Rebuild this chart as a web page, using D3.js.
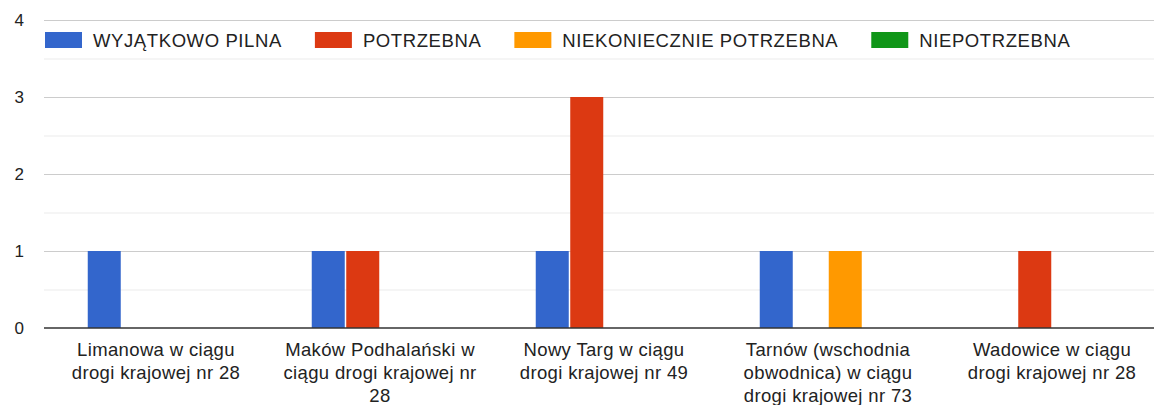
<!DOCTYPE html>
<html>
<head>
<meta charset="utf-8">
<script src="https://cdn.jsdelivr.net/npm/d3@7"></script>
<style>
  body { margin: 0; background: #fff; }
  text { font-family: "Liberation Sans", Arial, sans-serif; fill: #222; }
</style>
</head>
<body>
<div id="chart"></div>
<script>
// data
var categories = [
    "Limanowa w ciągu drogi krajowej nr 28",
    "Maków Podhalański w ciągu drogi krajowej nr 28",
    "Nowy Targ w ciągu drogi krajowej nr 49",
    "Tarnów (wschodnia obwodnica) w ciągu drogi krajowej nr 73",
    "Wadowice w ciągu drogi krajowej nr 28"
];
var categoryLines = [
    ["Limanowa w ciągu", "drogi krajowej nr 28"],
    ["Maków Podhalański w", "ciągu drogi krajowej nr", "28"],
    ["Nowy Targ w ciągu", "drogi krajowej nr 49"],
    ["Tarnów (wschodnia", "obwodnica) w ciągu", "drogi krajowej nr 73"],
    ["Wadowice w ciągu", "drogi krajowej nr 28"]
];
var series = ["WYJĄTKOWO PILNA", "POTRZEBNA", "NIEKONIECZNIE POTRZEBNA", "NIEPOTRZEBNA"];
var colors = ["#3366cc", "#dc3912", "#ff9900", "#109618"];

var pilna = [1, 1, 1, 1, 0];
var potrzebna = [0, 1, 3, 0, 1];
var niekoniecznie = [0, 0, 0, 1, 0];
var niepotrzebna = [0, 0, 0, 0, 0];
var values = [pilna, potrzebna, niekoniecznie, niepotrzebna];

var yTicks = [0, 1, 2, 3, 4];

var width = 1154, height = 405;

var svg = d3.select("#chart").append("svg")
    .attr("width", width)
    .attr("height", height);

var x0 = d3.scaleBand()
    .domain(categories)
    .range([44, 1164]);

var x1 = d3.scaleBand()
    .domain(series)
    .range([0, x0.bandwidth()])
    .paddingInner(0.0435)
    .paddingOuter(1.268);

var y = d3.scaleLinear()
    .domain([0, 4])
    .range([328, 20]);

// minor gridlines
svg.append("g").selectAll("line")
    .data(d3.range(0.5, 4, 1))
    .enter().append("line")
    .attr("x1", 44).attr("x2", width)
    .attr("y1", function(d) { return y(d) + 0.5; })
    .attr("y2", function(d) { return y(d) + 0.5; })
    .style("stroke", "#ebebeb");

// major gridlines
svg.append("g").selectAll("line")
    .data(yTicks.slice(1))
    .enter().append("line")
    .attr("x1", 44).attr("x2", width)
    .attr("y1", function(d) { return y(d) + 0.5; })
    .attr("y2", function(d) { return y(d) + 0.5; })
    .style("stroke", "#cccccc");

// y labels
svg.append("g").selectAll("text")
    .data(yTicks)
    .enter().append("text")
    .attr("x", 24)
    .attr("y", function(d) { return y(d) + 6; })
    .attr("text-anchor", "end")
    .style("font-size", "17px")
    .text(function(d) { return d; });

// bars
var groups = svg.append("g").selectAll("g")
    .data(categories)
    .enter().append("g")
    .attr("transform", function(d) { return "translate(" + x0(d) + ",0)"; });

groups.selectAll("rect")
    .data(function(d, i) {
        return series.map(function(s, k) { return { s: s, k: k, v: values[k][i] }; });
    })
    .enter().append("rect")
    .filter(function(d) { return d.v > 0; })
    .attr("x", function(d) { return x1(d.s); })
    .attr("width", x1.bandwidth())
    .attr("y", function(d) { return y(d.v); })
    .attr("height", function(d) { return y(0) - y(d.v); })
    .style("fill", function(d) { return colors[d.k]; });

// baseline
svg.append("line")
    .attr("x1", 44).attr("x2", width)
    .attr("y1", y(0)).attr("y2", y(0))
    .style("stroke", "#333")
    .style("stroke-width", 1.5);

// x labels
var xl = svg.append("g").selectAll("text")
    .data(categories)
    .enter().append("text")
    .attr("text-anchor", "middle")
    .style("font-size", "18.5px")
    .style("letter-spacing", "0.35px")
    .attr("transform", function(d) { return "translate(" + (x0(d) + x0.bandwidth() / 2) + ",0)"; });

xl.selectAll("tspan")
    .data(function(d, i) { return categoryLines[i]; })
    .enter().append("tspan")
    .attr("x", 0)
    .attr("y", function(d, j) { return 356 + j * 23; })
    .text(function(d) { return d; });

// legend
var legend = svg.append("g");
var lx = 45;
series.forEach(function(s, k) {
    legend.append("rect")
        .attr("x", lx).attr("y", 32)
        .attr("width", 37).attr("height", 16)
        .style("fill", colors[k]);
    var t = legend.append("text")
        .attr("x", lx + 48)
        .attr("y", 47)
        .style("font-size", "18.5px")
        .style("letter-spacing", "0.6px")
        .text(s);
    lx = lx + 48 + t.node().getComputedTextLength() + 33;
});
</script>
</body>
</html>
